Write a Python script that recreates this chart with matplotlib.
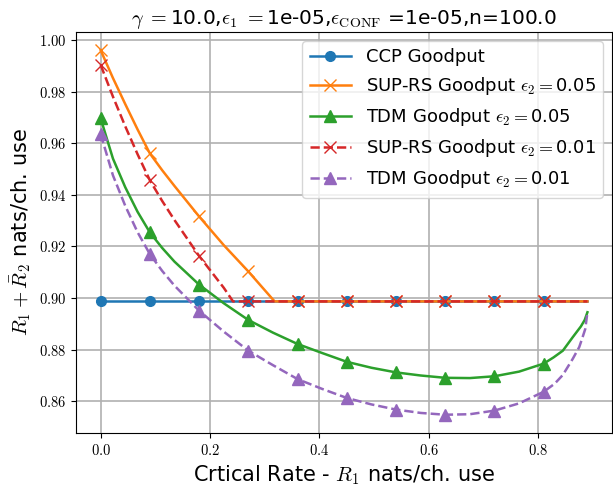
import matplotlib
matplotlib.use("Agg")
import matplotlib.pyplot as plt
from matplotlib.ticker import FuncFormatter

plt.rcParams['mathtext.fontset'] = 'cm'
plt.rcParams['font.family'] = 'DejaVu Sans'

# CCP goodput (flat)
x_ccp = [0.0, 0.09, 0.18, 0.27, 0.36, 0.45, 0.54, 0.63, 0.72, 0.81, 0.89]
y_ccp = [0.8987] * len(x_ccp)

# SUP-RS eps2 = 0.05
x_sup05 = [0.0, 0.0225, 0.045, 0.0675, 0.09, 0.1125, 0.135, 0.18, 0.225, 0.27, 0.318,
           0.36, 0.45, 0.54, 0.63, 0.72, 0.81, 0.89]
y_sup05 = [0.9960, 0.9852, 0.9751, 0.9653, 0.9560, 0.9495, 0.9434, 0.9316, 0.9205, 0.9103,
           0.8987, 0.8987, 0.8987, 0.8987, 0.8987, 0.8987, 0.8987, 0.8987]

# TDM eps2 = 0.05
x_tdm05 = [0.0, 0.0225, 0.045, 0.0675, 0.09, 0.1125, 0.135, 0.18, 0.225, 0.27, 0.315, 0.36,
           0.405, 0.45, 0.495, 0.54, 0.585, 0.63, 0.675, 0.72, 0.765, 0.81, 0.828, 0.845,
           0.863, 0.878, 0.885, 0.89]
y_tdm05 = [0.9696, 0.9540, 0.9429, 0.9334, 0.9254, 0.9194, 0.9141, 0.9052, 0.8980, 0.8915,
           0.8866, 0.8822, 0.8787, 0.8753, 0.8730, 0.8712, 0.8700, 0.8691, 0.8690, 0.8697,
           0.8715, 0.8746, 0.8770, 0.8796, 0.8848, 0.8890, 0.8915, 0.8945]

# SUP-RS eps2 = 0.01
x_sup01 = [0.0, 0.0225, 0.045, 0.0675, 0.09, 0.1125, 0.135, 0.18, 0.225, 0.242, 0.27,
           0.36, 0.45, 0.54, 0.63, 0.72, 0.81, 0.89]
y_sup01 = [0.9903, 0.9780, 0.9665, 0.9557, 0.9456, 0.9376, 0.9302, 0.9163, 0.9040, 0.8987,
           0.8987, 0.8987, 0.8987, 0.8987, 0.8987, 0.8987, 0.8987, 0.8987]

# TDM eps2 = 0.01
x_tdm01 = [0.0, 0.0225, 0.045, 0.0675, 0.09, 0.1125, 0.135, 0.18, 0.225, 0.27, 0.315, 0.36,
           0.405, 0.45, 0.495, 0.54, 0.585, 0.63, 0.675, 0.72, 0.765, 0.81, 0.83, 0.845,
           0.863, 0.875, 0.88, 0.886, 0.89]
y_tdm01 = [0.9635, 0.9475, 0.9357, 0.9255, 0.9170, 0.9105, 0.9048, 0.8951, 0.8870, 0.8796,
           0.8740, 0.8686, 0.8648, 0.8613, 0.8588, 0.8568, 0.8555, 0.8548, 0.8550, 0.8564,
           0.8592, 0.8637, 0.8668, 0.8702, 0.8764, 0.8810, 0.8841, 0.8880, 0.8945]


def marks(xs):
    # markers only at multiples of 0.09 (up to 0.81)
    return [i for i, v in enumerate(xs) if abs(v / 0.09 - round(v / 0.09)) < 1e-6 and v < 0.85]


fig = plt.figure(figsize=(6.13, 4.92), dpi=100)
ax = fig.add_axes([0.1245, 0.12, 0.8735, 0.815])

lw = 1.8
ax.plot(x_ccp, y_ccp, '-o', color='C0', lw=lw, ms=7, markevery=marks(x_ccp), label='CCP Goodput')
ax.plot(x_sup05, y_sup05, '-x', color='C1', lw=lw, ms=8, markevery=marks(x_sup05),
        label=r'SUP-RS Goodput $\epsilon_2 =$0.05')
ax.plot(x_tdm05, y_tdm05, '-^', color='C2', lw=lw, ms=8, markevery=marks(x_tdm05),
        label=r'TDM Goodput $\epsilon_2 =$0.05')
ax.plot(x_sup01, y_sup01, '--x', color='C3', lw=lw, ms=8, markevery=marks(x_sup01),
        label=r'SUP-RS Goodput $\epsilon_2 =$0.01')
ax.plot(x_tdm01, y_tdm01, '--^', color='C4', lw=lw, ms=8, markevery=marks(x_tdm01),
        label=r'TDM Goodput $\epsilon_2 =$0.01')

ax.set_xticks([0.0, 0.2, 0.4, 0.6, 0.8])
ax.set_yticks([0.86, 0.88, 0.90, 0.92, 0.94, 0.96, 0.98, 1.00])
ax.xaxis.set_major_formatter(FuncFormatter(lambda v, p: r'$%.1f$' % v))
ax.yaxis.set_major_formatter(FuncFormatter(lambda v, p: r'$%.2f$' % v))
ax.tick_params(labelsize=10.5)
ax.grid(True, color='#b0b0b0', lw=1.2)

ax.set_xlabel(r'Crtical Rate - $R_1$ nats/ch. use', fontsize=15)
ax.set_ylabel(r'$R_1 + \bar{R}_2$ nats/ch. use', fontsize=15)
ax.set_title(r'$\gamma\ =$10.0,$\epsilon_1\ =$1e-05,$\epsilon_{\mathrm{CONF}}$ =1e-05,n=100.0',
             fontsize=14.5)
ax.legend(loc='upper right', fontsize=13, handlelength=2.3)

fig.savefig('out.png', dpi=100)
